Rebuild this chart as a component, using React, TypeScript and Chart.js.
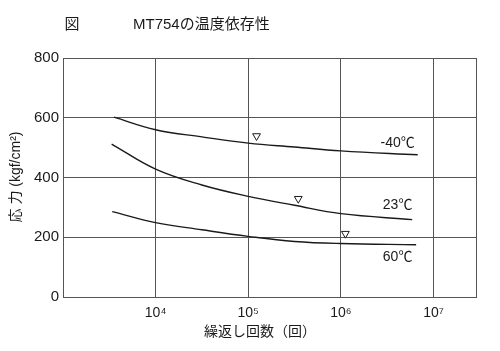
import React, { useEffect, useRef } from "react";
import { Chart, registerables } from "chart.js";
Chart.register(...registerables);

// 繰返し回数 (cycles) and 応力 (kgf/cm²)
const cyclesM40 = [3550, 10000, 31600, 100000, 316000, 1000000, 6760000];
const stressM40 = [602, 560, 536, 515, 502, 489, 476];
const cycles23 = [3350, 10000, 31600, 100000, 316000, 1000000, 5900000];
const stress23 = [512, 428, 375, 337, 307, 279, 259];
const cycles60 = [3400, 10000, 31600, 100000, 316000, 1000000, 6500000];
const stress60 = [286, 249, 225, 203, 186, 179, 175];

const markerCycles = [123000, 347000, 1120000];
const markerStress = [539, 329, 212];

const curveLabels = ["-40℃", "23℃", "60℃"];
const labelCycles = [4100000, 4100000, 4100000];
const labelStress = [516, 309, 132];

const xTickValues = [1e4, 1e5, 1e6, 1e7];
const xTickLabels = ["10⁴", "10⁵", "10⁶", "10⁷"];
const yTicks = [0, 200, 400, 600, 800];
const xMin = 1000;
const xMax = 28800000;

const titleMark = "図";
const titleText = "MT754の温度依存性";
const xTitle = "繰返し回数（回）";
const yTitle = "応 力 (kgf/cm²)";

const FONT = '"Liberation Sans", "Noto Sans CJK JP", sans-serif';
const INK = "#1a1a1a";
const GRID = "#555555";

const pts = (xs: number[], ys: number[]) => xs.map((x, i) => ({ x, y: ys[i] }));

const textPlugin = {
  id: "textPlugin",
  afterDraw(chart: any) {
    const { ctx, scales } = chart;
    const xs = scales.x;
    const ys = scales.y;
    ctx.save();
    ctx.fillStyle = INK;
    ctx.textBaseline = "middle";
    ctx.font = `15px ${FONT}`;
    ctx.textAlign = "center";
    ctx.fillText(titleMark, 72, 25);
    ctx.textAlign = "left";
    ctx.fillText(titleText, 133, 25);
    // curve labels
    ctx.font = `14px ${FONT}`;
    ctx.textAlign = "center";
    curveLabels.forEach((t, i) => {
      ctx.fillText(t, xs.getPixelForValue(labelCycles[i]), ys.getPixelForValue(labelStress[i]));
    });
    // axis titles
    ctx.fillText(xTitle, 260, 332);
    ctx.translate(16, 177);
    ctx.rotate(-Math.PI / 2);
    ctx.fillText(yTitle, 0, 0);
    ctx.restore();
  },
};

const lineDs = (xs: number[], ys: number[]) => ({
  data: pts(xs, ys),
  borderColor: INK,
  borderWidth: 1.4,
  pointRadius: 0,
  tension: 0.4,
  fill: false,
});

export default function App() {
  const ref = useRef<HTMLCanvasElement | null>(null);
  useEffect(() => {
    if (!ref.current) return;
    const chart = new Chart(ref.current, {
      type: "line",
      data: {
        datasets: [
          lineDs(cyclesM40, stressM40),
          lineDs(cycles23, stress23),
          lineDs(cycles60, stress60),
          {
            type: "scatter",
            data: pts(markerCycles, markerStress),
            showLine: false,
            pointStyle: "triangle",
            rotation: 180,
            pointRadius: 4.5,
            pointBorderWidth: 1,
            pointBorderColor: INK,
            pointBackgroundColor: "#fff",
            borderColor: INK,
            backgroundColor: "#fff",
          } as any,
        ],
      },
      options: {
        responsive: false,
        animation: false,
        events: [],
        layout: { padding: { top: 58, right: 24, left: 0, bottom: 0 } },
        plugins: { legend: { display: false }, tooltip: { enabled: false }, title: { display: false } },
        scales: {
          x: {
            type: "logarithmic",
            min: xMin,
            max: xMax,
            afterBuildTicks: (s: any) => {
              s.ticks = [...xTickValues, xMax].map((v) => ({ value: v }));
            },
            afterFit: (s: any) => {
              s.height = 54;
            },
            ticks: {
              autoSkip: false,
              maxRotation: 0,
              padding: 8,
              color: INK,
              font: { family: FONT, size: 14 },
              callback: (v: any) => {
                const i = xTickValues.indexOf(Number(v));
                return i >= 0 ? xTickLabels[i] : "";
              },
            },
            grid: { color: GRID, lineWidth: 1, drawTicks: false },
            border: { color: GRID, width: 1 },
          },
          y: {
            type: "linear",
            min: 0,
            max: 800,
            afterBuildTicks: (s: any) => {
              s.ticks = yTicks.map((v) => ({ value: v }));
            },
            afterFit: (s: any) => {
              s.width = 63;
            },
            ticks: { padding: 4, color: INK, font: { family: FONT, size: 15 } },
            grid: { color: GRID, lineWidth: 1, drawTicks: false },
            border: { color: GRID, width: 1 },
          },
        },
      },
      plugins: [textPlugin],
    } as any);
    return () => chart.destroy();
  }, []);
  return (
    <div style={{ position: "fixed", left: 0, top: 0, width: 500, height: 351, background: "#fff" }}>
      <canvas ref={ref} width={500} height={351} />
    </div>
  );
}
